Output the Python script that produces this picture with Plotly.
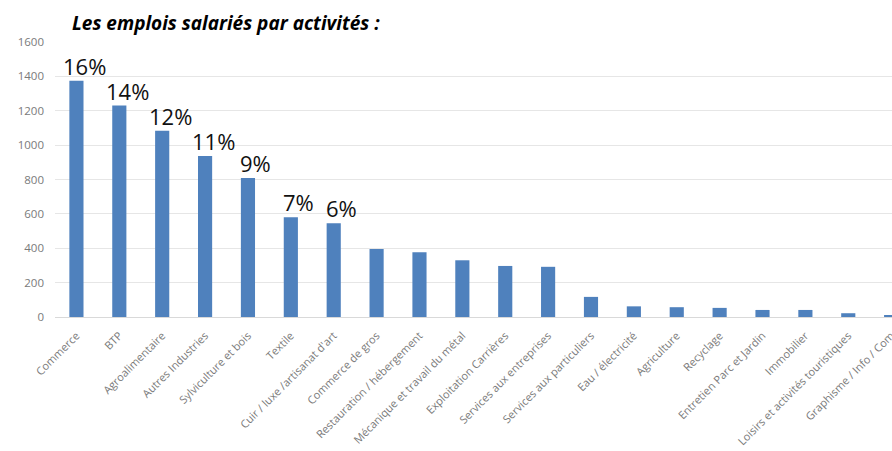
import plotly.graph_objects as go

categories = [
    "Commerce", "BTP", "Agroalimentaire", "Autres Industries", "Sylviculture et bois",
    "Textile", "Cuir / luxe /artisanat d'art", "Commerce de gros", "Restauration / hébergement",
    "Mécanique et travail du métal", "Exploitation Carrières", "Services aux entreprises",
    "Services aux particuliers", "Eau / électricité", "Agriculture", "Recyclage",
    "Entretien Parc et Jardin", "Immobilier", "Loisirs et activités touristiques",
    "Graphisme / Info / Com",
]
values = [1375, 1230, 1083, 937, 809, 581, 546, 395, 377, 330, 297, 292, 117, 62, 57, 53, 41, 41, 22, 6]
pct_labels = ["16%", "14%", "12%", "11%", "9%", "7%", "6%"]
y_ticks = [0, 200, 400, 600, 800, 1000, 1200, 1400, 1600]

fig = go.Figure()
fig.add_trace(go.Bar(
    x=list(range(len(categories))), y=values,
    marker=dict(color="#4f81bd", line=dict(width=0)),
    hoverinfo="skip",
))

for i, lab in enumerate(pct_labels):
    fig.add_annotation(x=i, y=values[i], text=lab, showarrow=False,
                       xanchor="center", yanchor="bottom", xshift=8, yshift=-2,
                       font=dict(family="Open Sans", size=22, color="#111111"))

fig.add_annotation(xref="paper", yref="paper", x=0.0185, y=1.0, yshift=19,
                   xanchor="left", yanchor="middle", showarrow=False,
                   text="<b><i>Les emplois salariés par activités :</i></b>",
                   font=dict(family="Open Sans", size=19, color="#000000"))

fig.update_layout(
    width=892, height=451,
    margin=dict(l=54.5, r=0, t=42, b=134.3, autoexpand=False),
    paper_bgcolor="white", plot_bgcolor="white",
    bargap=0.67, showlegend=False,
    xaxis=dict(
        range=[-0.5, 19.02], tickmode="array",
        tickvals=list(range(len(categories))), ticktext=categories,
        tickangle=-45, showgrid=False, showline=True, linecolor="#d9d9d9",
        linewidth=1, ticks="", automargin=False, ticklabelstandoff=7,
        ticklabeloverflow="allow",
        tickfont=dict(family="Open Sans", size=11, color="#7a7a7a"),
    ),
    yaxis=dict(
        range=[0, 1600], tickmode="array", tickvals=y_ticks,
        showgrid=True, gridcolor="#e6e6e6", gridwidth=1, zeroline=False,
        ticks="", automargin=False, ticklabelstandoff=10,
        tickfont=dict(family="Open Sans", size=11.5, color="#7a7a7a"),
    ),
)

fig.write_html("out.html", config={"displayModeBar": False},
               post_script="document.body.style.margin='0';document.body.style.overflow='hidden';")
